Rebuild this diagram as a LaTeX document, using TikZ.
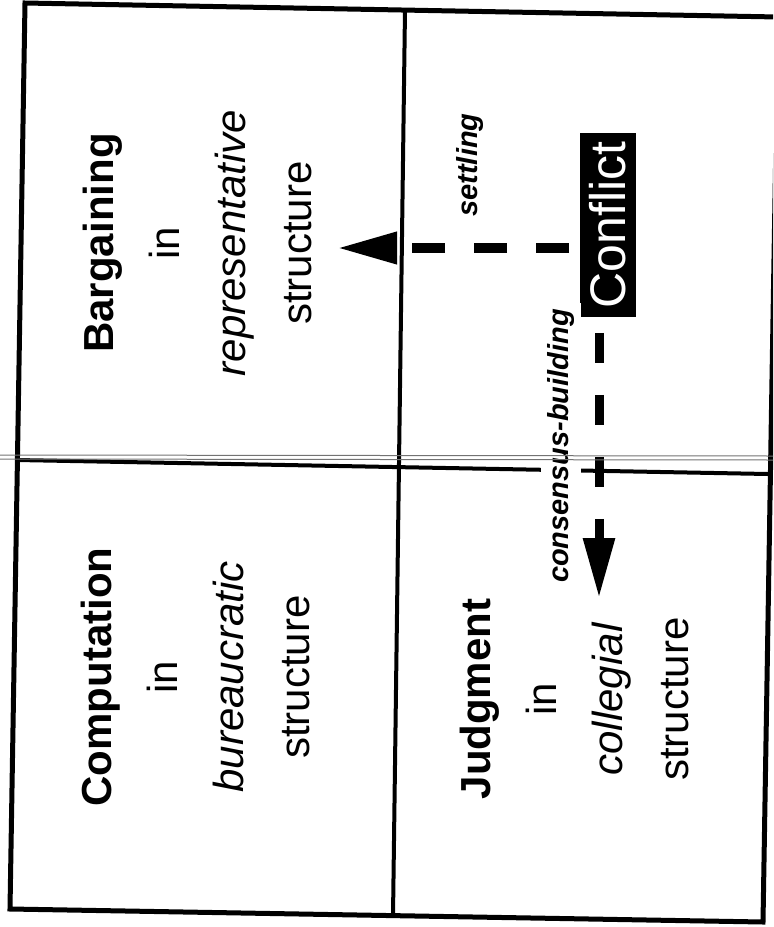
\documentclass[tikz,border=0pt]{standalone}
\usepackage{fontspec}
\setmainfont{Liberation Sans}
\usetikzlibrary{arrows.meta}

\begin{document}
\begin{tikzpicture}[x=0.5pt, y=-0.5pt,
    every node/.style={rotate=90, inner sep=0pt},
    quad/.style={align=center, font=\fontsize{21}{33}\selectfont},
    flowlabel/.style={font=\fontsize{14.5}{16}\selectfont\bfseries\itshape},
    flow/.style={line width=5pt, -{Triangle[length=30pt, width=15pt]}}]
    \useasboundingbox (0,0) rectangle (773,927);
    \clip (0,0) rectangle (773,927);
    \draw[line width=2.5pt, line join=miter] (25,3) -- (778,17) -- (763,922) -- (10,909) -- cycle;
    \draw[line width=2pt] (405,10) -- (393,916);
    \draw[line width=2pt] (17,460) -- (768,474);
    \node[quad] (bargaining) at (197,243) {\textbf{Bargaining}\\in\\\textit{representative}\\structure};
    \node[quad] (computation) at (195,677) {\textbf{Computation}\\in\\\textit{bureaucratic}\\structure};
    \node[quad] (judgment) at (574,699) {\textbf{Judgment}\\in\\\textit{collegial}\\structure};
    \node[fill=black, text=white, inner xsep=4.5pt, inner ysep=5pt, font=\fontsize{25}{25}\selectfont] (conflict) at (608,225) {Conflict};
    \coordinate (settletip) at (337,248);
    \coordinate (consenttip) at (599,598);
    \draw[flow, dash pattern=on 16.5pt off 14.5pt, shorten <=5pt] (settletip -| conflict.north) -- (settletip);
    \draw[flow, line width=4.5pt, dash pattern=on 15pt off 16pt, shorten <=7.5pt] (consenttip |- conflict.west) -- (consenttip);
    \node[flowlabel] (settling) at (470,165) {settling};
    \node[flowlabel, fill=white, inner sep=3pt] (consensus) at (561,446) {consensus-building};
    \draw[black!55, line width=0.5pt] (0,455) -- (773,456);
    \draw[black!55, line width=0.5pt] (0,459) -- (773,460);
\end{tikzpicture}
\end{document}
